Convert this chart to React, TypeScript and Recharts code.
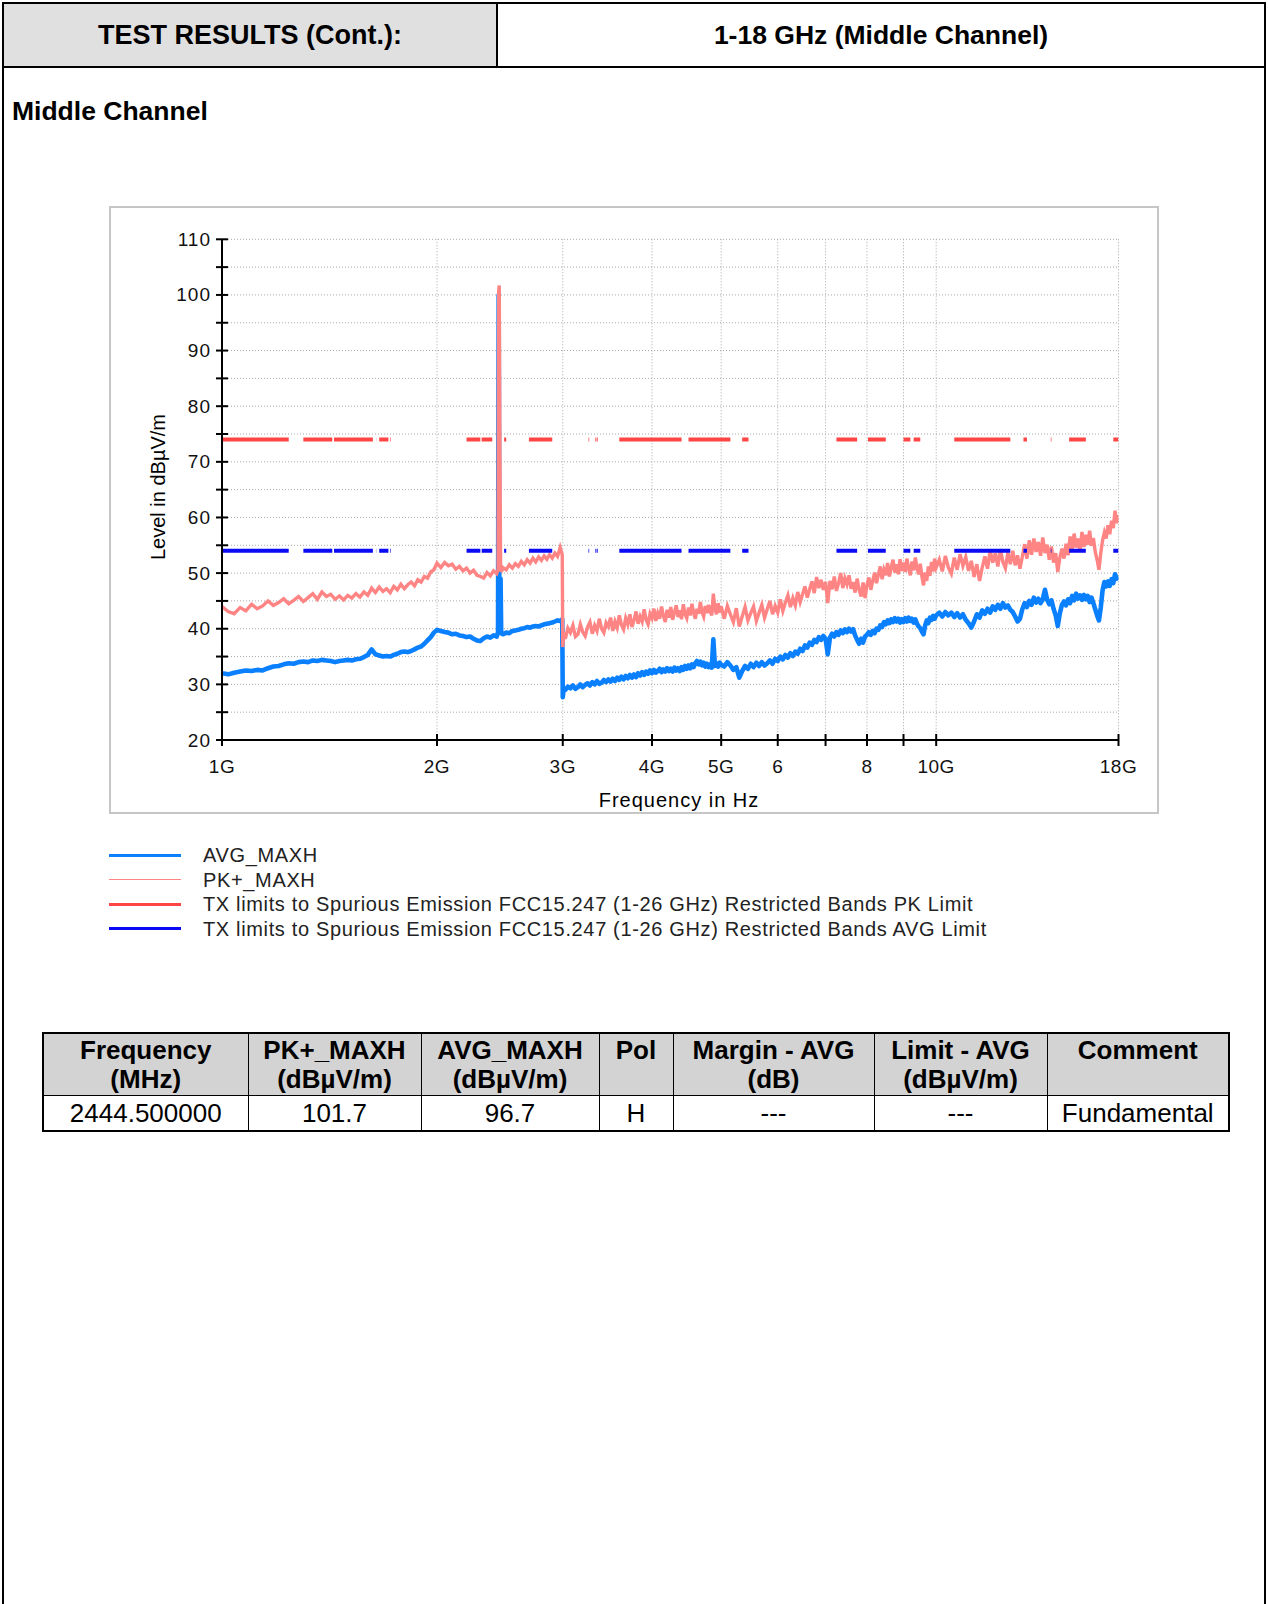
import React from "react";
import { LineChart, Line, XAxis, YAxis, CartesianGrid } from "recharts";

// sweep frequencies (MHz), shared by both traces
const freqMHz = [
  1000, 1020, 1040, 1060, 1080, 1100, 1120, 1140, 1160, 1180,
  1200, 1220, 1240, 1260, 1280, 1300, 1320, 1340, 1360, 1380,
  1400, 1420, 1440, 1460, 1480, 1500, 1520, 1540, 1560, 1580,
  1600, 1620, 1640, 1660, 1680, 1700, 1720, 1740, 1760, 1780,
  1800, 1820, 1840, 1860, 1880, 1900, 1920, 1940, 1960, 1980,
  2000,
  2025, 2050, 2075, 2100, 2125, 2150, 2175, 2200, 2225, 2250,
  2275, 2300, 2325, 2350, 2375, 2400, 2425, 2435, 2440, 2444.5,
  2450, 2455, 2460, 2475, 2500, 2525, 2550, 2575, 2600, 2625,
  2650, 2675, 2700, 2725, 2750, 2775, 2800, 2825, 2850, 2875,
  2900, 2925, 2950, 2975, 2995, 3000, 3010,
  3025, 3050, 3075, 3100, 3125, 3150, 3175, 3200, 3225, 3250,
  3275, 3300, 3325, 3350, 3375, 3400, 3425, 3450, 3475, 3500,
  3525, 3550, 3575, 3600, 3625, 3650, 3675, 3700, 3725, 3750,
  3775, 3800, 3825, 3850, 3875, 3900, 3925, 3950, 3975, 4000,
  4025, 4050, 4075, 4100, 4125, 4150, 4175, 4200, 4225, 4250,
  4275, 4300, 4325, 4350, 4375, 4400, 4425, 4450, 4475, 4500,
  4525, 4550, 4575, 4600, 4625, 4650, 4675, 4700, 4725, 4750,
  4775, 4800, 4825, 4850, 4875, 4900, 4925, 4950, 4975, 5000,
  5050, 5100, 5150, 5200, 5250, 5300, 5350, 5400, 5450, 5500,
  5550, 5600, 5650, 5700, 5750, 5800, 5850, 5900, 5950, 6000,
  6050, 6100, 6150, 6200, 6250, 6300, 6350, 6400, 6450, 6500,
  6550, 6600, 6650, 6700, 6750, 6800, 6850, 6900, 6950, 7000,
  7050, 7100, 7150, 7200, 7250, 7300, 7350, 7400, 7450, 7500,
  7550, 7600, 7650, 7700, 7750, 7800, 7850, 7900, 7950, 8000,
  8050, 8100, 8150, 8200, 8250, 8300, 8350, 8400, 8450, 8500,
  8550, 8600, 8650, 8700, 8750, 8800, 8850, 8900, 8950, 9000,
  9050, 9100, 9150, 9200, 9250, 9300, 9350, 9400, 9450, 9500,
  9550, 9600, 9650, 9700, 9750, 9800, 9850, 9900, 9950, 10000,
  10100, 10200, 10300, 10400, 10500, 10600, 10700, 10800, 10900, 11000,
  11100, 11200, 11300, 11400, 11500, 11600, 11700, 11800, 11900, 12000,
  12100, 12200, 12300, 12400, 12500, 12600, 12700, 12800, 12900, 13000,
  13100, 13200, 13300, 13400, 13500, 13600, 13700, 13800, 13900, 14000,
  14100, 14200, 14300, 14400, 14500, 14600, 14700, 14800, 14900, 15000,
  15100, 15200, 15300, 15400, 15500, 15600, 15700, 15800, 15900, 16000,
  16100, 16200, 16300, 16400, 16500, 16600, 16700, 16800, 16900, 17000,
  17100, 17200, 17300, 17400, 17500, 17600, 17700, 17800, 17900, 18000,
];

// AVG_MAXH (dBµV/m)
const avgMaxh = [
  32.0, 31.8, 32.1, 32.3, 32.5, 32.4, 32.6, 32.5, 32.9, 33.2,
  33.3, 33.6, 33.8, 33.7, 34.0, 34.1, 34.0, 34.3, 34.2, 34.4,
  34.3, 34.2, 34.0, 34.2, 34.3, 34.4, 34.3, 34.5, 34.6, 34.9,
  35.3, 36.3, 35.4, 35.2, 35.0, 35.1, 35.0, 35.3, 35.5, 35.8,
  35.9, 35.8, 36.0, 36.3, 36.6, 36.8, 37.3, 37.9, 38.5, 39.3,
  39.8,
  39.6, 39.4, 39.3, 39.0, 39.1, 38.8, 38.7, 38.5, 38.6, 38.2,
  37.9, 37.8, 38.3, 38.6, 38.4, 38.8, 38.6, 39.4, 100.0, 49.2,
  39.8, 49.0, 39.2, 39.0, 39.3, 39.2, 39.6, 39.7, 39.8, 40.0,
  40.1, 40.3, 40.2, 40.4, 40.5, 40.4, 40.6, 40.8, 40.9, 41.0,
  41.1, 41.3, 41.5, 41.4, 41.7, 27.7, 29.3,
  29.0, 29.6, 29.3, 29.8, 29.2, 29.5, 30.0, 29.5, 29.9, 30.2,
  29.8, 30.4, 30.0, 30.6, 30.1, 30.3, 30.8, 30.4, 30.9, 30.5,
  31.0, 30.6, 31.2, 30.8, 31.4, 30.9, 31.5, 31.1, 31.7, 31.2,
  31.8, 31.3, 32.0, 31.6, 32.2, 31.7, 32.3, 31.9, 32.5, 32.0,
  32.6, 32.1, 32.4, 32.8, 32.2, 32.7, 32.3, 32.9, 32.4, 32.8,
  32.3, 33.0, 32.5, 32.9, 32.4, 33.1, 32.6, 33.3, 32.8, 33.4,
  32.9, 33.6, 33.1, 33.8, 34.2, 33.6, 34.1, 33.4, 33.9, 33.2,
  33.7, 33.1, 33.6, 33.0, 38.1, 33.3, 33.8, 33.2, 33.9, 33.5,
  33.2, 34.0, 33.4, 32.6, 33.1, 31.2, 32.4, 33.3, 32.8, 33.7,
  33.1, 33.9, 33.3, 34.0, 33.4, 33.8, 34.3, 33.7, 34.6, 34.2,
  35.0, 34.5, 35.3, 34.8, 35.6, 35.1, 35.9, 35.5, 36.4, 36.0,
  37.0, 36.6, 37.5, 37.1, 38.0, 37.6, 38.5, 38.0, 38.7, 38.2,
  35.4, 38.4, 39.1, 38.6, 39.4, 38.9, 39.7, 39.2, 39.9, 39.4,
  40.0, 39.5, 39.9, 38.8, 38.0, 37.3, 38.2, 37.5, 38.6, 38.9,
  39.4, 38.9, 39.6, 39.2, 40.0, 39.8, 40.6, 40.3, 41.2, 40.8,
  41.5, 41.0, 41.7, 41.2, 41.9, 41.3, 41.8, 41.1, 41.7, 41.2,
  41.9, 41.3, 42.0, 41.4, 41.8, 41.1, 41.7, 40.9, 40.4, 40.1,
  39.5, 39.0, 40.6, 41.5, 41.0, 42.0, 41.6, 42.3, 41.8, 42.4,
  42.9, 42.2, 43.0, 42.4, 42.9, 42.1, 42.8, 42.0, 42.6, 41.6,
  41.0, 40.2, 41.3, 42.6, 42.0, 43.3, 42.7, 43.6, 42.9, 44.0,
  43.4, 44.3, 43.6, 44.6, 43.8, 44.2, 43.4, 43.0, 42.2, 41.3,
  41.8, 43.5, 44.6, 43.9, 45.0, 44.3, 45.6, 44.7, 45.4, 44.6,
  45.3, 47.0, 45.2, 44.4, 45.1, 43.6, 42.4, 40.5, 42.8, 44.3,
  44.9, 44.2, 45.3, 44.6, 45.9, 45.1, 46.3, 45.4, 46.0, 45.2,
  46.1, 45.3, 45.9, 44.8, 45.6, 44.6, 43.5, 42.4, 41.5, 43.8,
  46.9, 48.4, 47.6, 48.5, 47.7, 48.9, 48.2, 49.8, 49.0, 49.4,
];

// PK+_MAXH (dBµV/m)
const pkMaxh = [
  44.0, 43.1, 42.7, 43.8, 43.2, 44.4, 43.6, 44.1, 45.0, 44.2,
  44.7, 45.4, 44.5, 45.1, 45.8, 44.9, 45.6, 46.3, 45.3, 46.6,
  45.8, 46.2, 45.3, 45.9, 45.2, 46.0, 45.5, 46.3, 45.7, 46.6,
  46.0, 47.3, 46.5, 47.5, 46.7, 47.2, 46.5, 47.6, 47.0, 48.0,
  47.2, 47.9, 48.4, 47.7, 48.8, 48.4, 49.4, 49.1, 50.2, 50.6,
  51.8,
  51.0, 51.9, 51.3, 51.6, 50.7, 51.2, 50.4, 50.9, 50.0, 50.5,
  49.6, 49.4, 49.1, 50.1, 49.5, 50.4, 49.9, 50.6, 100.6, 101.7,
  72.0, 51.8, 50.2, 51.0, 50.6, 51.5, 50.9, 51.7, 51.2, 52.1,
  51.5, 52.4, 51.8, 52.7, 52.0, 52.9, 52.3, 53.1, 52.5, 53.3,
  52.7, 53.6, 53.0, 54.6, 53.3, 36.7, 39.4,
  38.2, 40.1, 39.3, 40.6, 38.6, 39.0, 40.8, 39.4, 38.7, 40.3,
  41.2, 39.1, 40.6, 39.6, 41.8, 40.0, 39.3, 41.1, 40.4, 42.0,
  39.6, 41.3, 40.2, 42.4, 40.7, 39.9, 41.9, 40.8, 42.6, 40.3,
  41.5, 43.1, 40.9, 42.2, 41.3, 43.5, 41.6, 40.8, 42.7, 41.9,
  43.6, 41.4, 42.8, 41.8, 44.0, 42.3, 41.2, 43.4, 42.0, 43.9,
  41.6, 42.9, 44.2, 42.1, 43.3, 41.7, 44.4, 42.6, 41.9, 43.8,
  42.4, 44.5, 42.9, 41.8, 43.6, 42.7, 44.8, 43.0, 42.2, 44.1,
  42.8, 44.3, 43.1, 42.4, 46.3, 43.5, 42.6, 44.6, 42.9, 44.0,
  41.8, 44.1, 42.6, 41.2, 43.7, 40.4, 42.2, 43.9, 41.5, 42.8,
  44.0, 41.4, 42.9, 44.3, 42.0, 43.5, 45.0, 42.6, 44.1, 42.9,
  45.3, 43.2, 44.7, 46.0, 43.9, 45.5, 44.2, 46.6, 44.8, 46.2,
  47.6, 45.6, 47.1, 48.5, 46.4, 49.3, 47.3, 48.8, 47.0, 48.4,
  44.6, 48.6, 47.1, 49.4, 46.8, 48.2, 50.0, 47.3, 49.1, 48.0,
  49.6, 47.2, 48.4, 46.5, 49.0, 47.0, 45.8, 48.3, 45.5, 47.9,
  49.2, 47.0, 48.6, 50.1, 48.2, 49.7, 51.2, 48.9, 50.6, 49.6,
  51.8, 49.4, 51.0, 52.4, 50.1, 51.6, 49.8, 52.5, 50.4, 51.9,
  50.2, 52.6, 50.8, 49.6, 52.1, 50.5, 52.8, 50.9, 49.8, 51.7,
  49.4, 47.8, 50.1, 48.6, 51.2, 49.5, 52.0, 50.3, 52.6, 51.0,
  52.4, 50.3, 53.1, 51.0, 49.9, 52.8, 50.6, 53.4, 51.3, 52.9,
  50.4, 52.2, 49.3, 51.6, 48.6, 51.0, 53.0, 50.8, 54.1, 51.9,
  53.6, 51.2, 54.3, 52.0, 50.9, 53.7, 51.6, 54.0, 51.4, 53.2,
  50.8, 52.9, 55.2, 52.6, 55.9, 53.3, 56.2, 53.8, 55.6, 53.1,
  56.4, 53.6, 55.1, 52.4, 54.8, 51.9, 53.6, 50.2, 52.8, 54.4,
  52.6, 55.3, 53.2, 56.6, 54.1, 57.1, 54.6, 56.2, 54.0, 57.4,
  54.7, 56.9, 55.1, 57.6, 54.9, 56.3, 53.8, 52.4, 50.6, 53.6,
  55.9, 57.3, 56.2, 58.6, 57.0, 59.4, 58.1, 61.2, 59.0, 60.4,
];

// restricted bands (MHz) where the limit lines are drawn
const bandStartMHz = [1000, 1300, 1435, 1645.5, 1660, 1718.8, 2200, 2310, 2483.5, 2690, 3260, 3332, 3345.8, 3600, 4500, 5350, 7250, 8025, 9000, 9300, 10600, 13250, 14470, 15350, 17700];
const bandStopMHz = [1240, 1427, 1626.5, 1646.5, 1710, 1722.2, 2300, 2390, 2500, 2900, 3267, 3339, 3358, 4400, 5150, 5460, 7750, 8500, 9200, 9500, 12700, 13400, 14500, 16200, 18000];
const pkLimit = 74;
const avgLimit = 54;

const xTicks = [1000, 2000, 3000, 4000, 5000, 6000, 7000, 8000, 9000, 10000, 18000];
const xTickLabels: Record<number, string> = { 1000: "1G", 2000: "2G", 3000: "3G", 4000: "4G", 5000: "5G", 6000: "6", 8000: "8", 10000: "10G", 18000: "18G" };
const yTicks = [20, 25, 30, 35, 40, 45, 50, 55, 60, 65, 70, 75, 80, 85, 90, 95, 100, 105, 110];

const legendNames = [
  "AVG_MAXH",
  "PK+_MAXH",
  "TX limits to Spurious Emission FCC15.247 (1-26 GHz) Restricted Bands PK Limit",
  "TX limits to Spurious Emission FCC15.247 (1-26 GHz) Restricted Bands AVG Limit",
];
const legendColors = ["#0a80ff", "#ff8484", "#ff4444", "#0a0af5"];
const legendThickness = [3, 1.5, 3, 3];

const tableHeader = ["Frequency\n(MHz)", "PK+_MAXH\n(dBµV/m)", "AVG_MAXH\n(dBµV/m)", "Pol", "Margin - AVG\n(dB)", "Limit - AVG\n(dBµV/m)", "Comment"];
const tableRow = ["2444.500000", "101.7", "96.7", "H", "---", "---", "Fundamental"];
const colWidths = [205, 173, 178, 74, 201, 173, 182];

const traceData = freqMHz.map((f, i) => ({ f, avg: avgMaxh[i], pk: pkMaxh[i] }));
const limitData = bandStartMHz.flatMap((s, i) => [
  { f: s, pk: pkLimit, avg: avgLimit },
  { f: bandStopMHz[i], pk: pkLimit, avg: avgLimit },
  { f: bandStopMHz[i], pk: null, avg: null },
]);

const tickFont = '"Liberation Sans", Arial, sans-serif';

const YTick = (props: any) => {
  const { x, y, payload } = props;
  const v = payload.value;
  return (
    <g>
      <line x1={x - 6} x2={x + 6} y1={y} y2={y} stroke="#000" strokeWidth={2} />
      {v % 10 === 0 && (
        <text x={x - 11} y={y} textAnchor="end" dominantBaseline="central" fontSize={19} letterSpacing={1} fontFamily={tickFont} fill="#111">
          {v}
        </text>
      )}
    </g>
  );
};

const XTick = (props: any) => {
  const { x, y, payload } = props;
  const label = xTickLabels[payload.value];
  return (
    <g>
      <line x1={x} x2={x} y1={y - 6} y2={y + 6} stroke="#000" strokeWidth={2} />
      {label && (
        <text x={x} y={y + 26} textAnchor="middle" dominantBaseline="central" fontSize={19} letterSpacing={0.5} fontFamily={tickFont} fill="#111">
          {label}
        </text>
      )}
    </g>
  );
};

export default function App() {
  return (
    <div style={{ position: "absolute", left: 0, top: 0, width: 1268, height: 1604, overflow: "hidden", background: "#fff", fontFamily: tickFont, color: "#000" }}>
      {/* page frame */}
      <div style={{ position: "absolute", left: 2, top: 2, width: 1264, height: 1640, border: "2px solid #000", boxSizing: "border-box" }} />

      {/* header */}
      <div style={{ position: "absolute", left: 4, top: 4, width: 492, height: 62, background: "#e0e0e0", display: "flex", alignItems: "center", justifyContent: "center", fontWeight: 700, fontSize: 27 }}>
        TEST RESULTS (Cont.):
      </div>
      <div style={{ position: "absolute", left: 496, top: 4, width: 2, height: 63, background: "#000" }} />
      <div style={{ position: "absolute", left: 498, top: 4, width: 766, height: 62, display: "flex", alignItems: "center", justifyContent: "center", fontWeight: 700, fontSize: 26.5 }}>
        1-18 GHz (Middle Channel)
      </div>
      <div style={{ position: "absolute", left: 4, top: 66, width: 1260, height: 2, background: "#000" }} />

      <div style={{ position: "absolute", left: 12, top: 96, fontWeight: 700, fontSize: 26.5, lineHeight: "30px" }}>Middle Channel</div>

      {/* chart frame */}
      <div style={{ position: "absolute", left: 109, top: 206, width: 1050, height: 608, border: "2px solid #c6c6c6", boxSizing: "border-box", background: "#fff" }}>
        <LineChart width={1046} height={604} margin={{ top: 31.3, right: 38.5, left: 51, bottom: 32 }}>
          <CartesianGrid stroke="#a8a8a8" strokeDasharray="1 2" />
          <XAxis
            dataKey="f"
            type="number"
            scale="log"
            domain={[1000, 18000]}
            ticks={xTicks}
            allowDataOverflow
            height={40}
            tickSize={0}
            tickMargin={0}
            tickLine={false}
            axisLine={{ stroke: "#000", strokeWidth: 2 }}
            tick={<XTick />}
            interval={0}
          />
          <YAxis
            type="number"
            domain={[20, 110]}
            ticks={yTicks}
            allowDataOverflow
            width={60}
            tickSize={0}
            tickMargin={0}
            tickLine={false}
            axisLine={{ stroke: "#000", strokeWidth: 2 }}
            tick={<YTick />}
            interval={0}
          />
          <Line data={traceData} dataKey="avg" type="linear" stroke="#0a80ff" strokeWidth={4.6} strokeLinejoin="round" dot={false} activeDot={false} isAnimationActive={false} />
          <Line data={traceData} dataKey="pk" type="linear" stroke="#ff8484" strokeWidth={3.4} strokeLinejoin="miter" dot={false} activeDot={false} isAnimationActive={false} />
          <Line data={limitData} dataKey="pk" type="linear" stroke="#ff4444" strokeWidth={4} dot={false} activeDot={false} connectNulls={false} isAnimationActive={false} />
          <Line data={limitData} dataKey="avg" type="linear" stroke="#0a0af5" strokeWidth={4} dot={false} activeDot={false} connectNulls={false} isAnimationActive={false} />
        </LineChart>
        <div style={{ position: "absolute", left: 47, top: 279, width: 0, height: 0 }}>
          <div style={{ position: "absolute", transform: "translate(-50%, -50%) rotate(-90deg)", whiteSpace: "nowrap", fontSize: 20 }}>Level in dBµV/m</div>
        </div>
        <div style={{ position: "absolute", left: 568, top: 592, width: 0, height: 0 }}>
          <div style={{ position: "absolute", transform: "translate(-50%, -50%)", whiteSpace: "nowrap", fontSize: 20, letterSpacing: 1 }}>Frequency in Hz</div>
        </div>
      </div>

      {/* legend */}
      {legendNames.map((name, i) => (
        <div key={name}>
          <div style={{ position: "absolute", left: 109, top: 855 + i * 24.5 - legendThickness[i] / 2, width: 72, height: legendThickness[i], background: legendColors[i] }} />
          <div style={{ position: "absolute", left: 203, top: 855 + i * 24.5 - 12, lineHeight: "24px", fontSize: 20, letterSpacing: 0.65, whiteSpace: "nowrap", color: "#222" }}>{name}</div>
        </div>
      ))}

      {/* result table */}
      <table style={{ position: "absolute", left: 42, top: 1032, borderCollapse: "collapse", tableLayout: "fixed", width: colWidths.reduce((a, b) => a + b, 0), border: "2px solid #000", fontSize: 26 }}>
        <colgroup>
          {colWidths.map((w, i) => (
            <col key={i} style={{ width: w }} />
          ))}
        </colgroup>
        <tbody>
          <tr style={{ height: 62, background: "#d3d3d3" }}>
            {tableHeader.map((h, i) => (
              <td key={i} style={{ border: "1.5px solid #000", verticalAlign: "top", textAlign: "center", fontWeight: 700, lineHeight: "29px", padding: "2px 0 0 0", whiteSpace: "pre-line" }}>
                {h}
              </td>
            ))}
          </tr>
          <tr style={{ height: 36 }}>
            {tableRow.map((c, i) => (
              <td key={i} style={{ border: "1.5px solid #000", textAlign: "center", lineHeight: "30px", padding: 0 }}>
                {c}
              </td>
            ))}
          </tr>
        </tbody>
      </table>
    </div>
  );
}
